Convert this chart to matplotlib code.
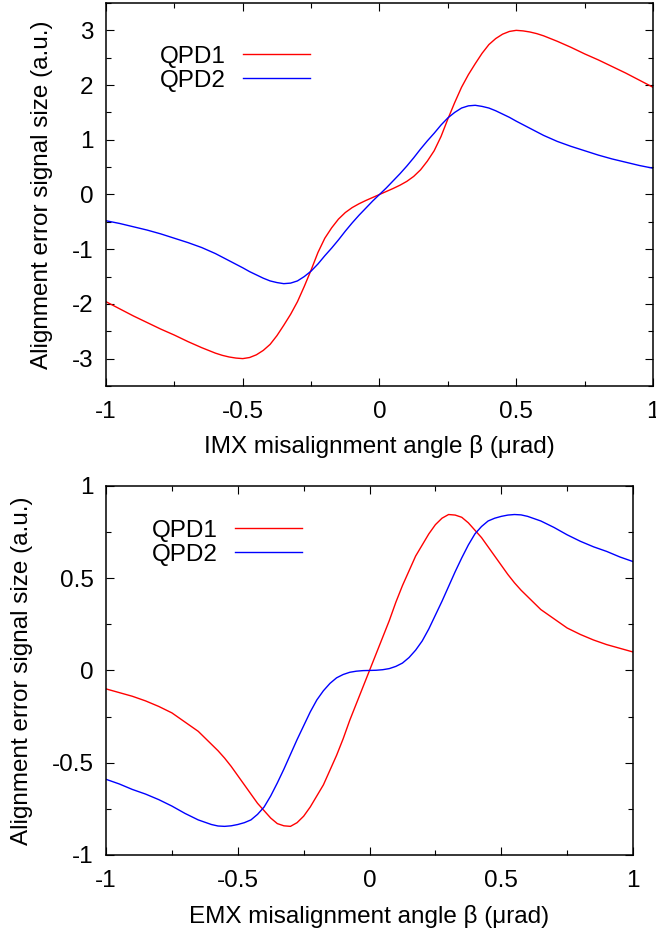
import matplotlib
matplotlib.use('Agg')
import matplotlib.pyplot as plt
from matplotlib.ticker import MultipleLocator

plt.rcParams['font.family'] = ['Liberation Sans', 'DejaVu Sans']
plt.rcParams['axes.unicode_minus'] = False

FS = 17.5   # --- размер шрифта подписей

# --- angle samples (urad)
beta = [-1.0, -0.95, -0.9, -0.85, -0.8, -0.75, -0.7, -0.65,
        -0.6, -0.575, -0.55, -0.525, -0.5, -0.475, -0.45, -0.425, -0.4, -0.375,
        -0.35, -0.325, -0.3, -0.275, -0.25, -0.225, -0.2, -0.175, -0.15, -0.125,
        -0.1, -0.075, -0.05, -0.025, 0.0,
        0.025, 0.05, 0.075, 0.1, 0.125, 0.15, 0.175, 0.2, 0.225, 0.25,
        0.275, 0.3, 0.325, 0.35, 0.375, 0.4, 0.425, 0.45, 0.475, 0.5,
        0.525, 0.55, 0.575, 0.6,
        0.65, 0.7, 0.75, 0.8, 0.85, 0.9, 0.95, 1.0]

# --- IMX panel
imx_qpd1 = [-1.96, -2.09, -2.22, -2.34, -2.46, -2.57, -2.69, -2.80,
            -2.90, -2.94, -2.97, -2.99, -3.0, -2.98, -2.93, -2.85, -2.74, -2.58,
            -2.39, -2.19, -1.96, -1.68, -1.38, -1.06, -0.80, -0.61, -0.45, -0.33,
            -0.24, -0.17, -0.11, -0.055, 0.0,
            0.055, 0.11, 0.17, 0.24, 0.33, 0.45, 0.61, 0.80, 1.06, 1.38,
            1.68, 1.96, 2.19, 2.39, 2.58, 2.74, 2.85, 2.93, 2.98, 3.0,
            2.99, 2.97, 2.94, 2.90,
            2.80, 2.69, 2.57, 2.46, 2.34, 2.22, 2.09, 1.96]
imx_qpd2 = [-0.48, -0.53, -0.59, -0.65, -0.72, -0.80, -0.88, -0.97,
            -1.08, -1.145, -1.21, -1.275, -1.34, -1.41, -1.47, -1.53, -1.58, -1.61,
            -1.63, -1.62, -1.58, -1.50, -1.40, -1.27, -1.12, -0.98, -0.83, -0.67,
            -0.52, -0.38, -0.25, -0.12, 0.0,
            0.12, 0.25, 0.38, 0.52, 0.67, 0.83, 0.98, 1.12, 1.27, 1.40,
            1.50, 1.58, 1.62, 1.63, 1.61, 1.58, 1.53, 1.47, 1.41, 1.34,
            1.275, 1.21, 1.145, 1.08,
            0.97, 0.88, 0.80, 0.72, 0.65, 0.59, 0.53, 0.48]

# --- EMX panel
emx_qpd1 = [-0.10, -0.12, -0.14, -0.165, -0.195, -0.23, -0.28, -0.33,
            -0.40, -0.435, -0.475, -0.52, -0.57, -0.62, -0.67, -0.72, -0.76, -0.80,
            -0.83, -0.842, -0.845, -0.825, -0.79, -0.74, -0.68, -0.62, -0.54, -0.46,
            -0.37, -0.27, -0.18, -0.09, 0.0,
            0.09, 0.18, 0.27, 0.37, 0.46, 0.54, 0.62, 0.68, 0.74, 0.79,
            0.825, 0.845, 0.842, 0.83, 0.80, 0.76, 0.72, 0.67, 0.62, 0.57,
            0.52, 0.475, 0.435, 0.40,
            0.33, 0.28, 0.23, 0.195, 0.165, 0.14, 0.12, 0.10]
emx_qpd2 = [-0.59, -0.615, -0.645, -0.67, -0.70, -0.735, -0.775, -0.81,
            -0.835, -0.843, -0.845, -0.842, -0.835, -0.825, -0.81, -0.78, -0.74, -0.68,
            -0.61, -0.535, -0.455, -0.375, -0.30, -0.225, -0.16, -0.11, -0.07, -0.04,
            -0.022, -0.01, -0.004, -0.001, 0.0,
            0.001, 0.004, 0.01, 0.022, 0.04, 0.07, 0.11, 0.16, 0.225, 0.30,
            0.375, 0.455, 0.535, 0.61, 0.68, 0.74, 0.78, 0.81, 0.825, 0.835,
            0.842, 0.845, 0.843, 0.835,
            0.81, 0.775, 0.735, 0.70, 0.67, 0.645, 0.615, 0.59]

xticks = [-1, -0.5, 0, 0.5, 1]
xticklabels = ['-1', '-0.5', '0', '0.5', '1']
imx_yticks = [-3, -2, -1, 0, 1, 2, 3]
emx_yticks = [-1, -0.5, 0, 0.5, 1]
emx_yticklabels = ['-1', '-0.5', '0', '0.5', '1']

ylabel = 'Alignment error signal size (a.u.)'

fig = plt.figure(figsize=(6.56, 9.35), dpi=100)
ax1 = fig.add_axes([0.1616, 0.5872, 0.8338, 0.4096])
ax2 = fig.add_axes([0.1616, 0.0856, 0.8034, 0.3947])


def style(ax, ymin, ymax, yminor):
    ax.set_xlim(-1, 1)
    ax.set_ylim(ymin, ymax)
    ax.xaxis.set_minor_locator(MultipleLocator(0.25))
    ax.yaxis.set_minor_locator(MultipleLocator(yminor))
    ax.tick_params(which='both', direction='in', top=True, right=True,
                   labelsize=FS, width=0.8)
    ax.tick_params(which='major', length=6)
    ax.tick_params(which='minor', length=3.5)
    ax.tick_params(axis='x', pad=11)
    ax.tick_params(axis='y', pad=9)
    for s in ax.spines.values():
        s.set_linewidth(1.1)


def legend(ax, anchor):
    ax.legend(loc='upper left', bbox_to_anchor=anchor, frameon=False,
              markerfirst=False, fontsize=FS, handlelength=2.75,
              handletextpad=0.7, labelspacing=0.1, borderpad=0,
              borderaxespad=0)


# --- верхний график: IMX
ax1.plot(beta, imx_qpd1, color='#ff0000', lw=1.0, label='QPD1')
ax1.plot(beta, imx_qpd2, color='#0000ff', lw=1.0, label='QPD2')
style(ax1, -3.5, 3.5, 0.5)
ax1.set_xticks(xticks)
ax1.set_xticklabels(xticklabels)
ax1.set_yticks(imx_yticks)
ax1.set_xlabel('IMX misalignment angle β (μrad)', fontsize=FS)
ax1.set_ylabel(ylabel, fontsize=FS)
ax1.xaxis.set_label_coords(0.5, -0.127)
ax1.yaxis.set_label_coords(-0.097, 0.5)
legend(ax1, (0.0987, 0.889))

# --- нижний график: EMX
ax2.plot(beta, emx_qpd1, color='#ff0000', lw=1.0, label='QPD1')
ax2.plot(beta, emx_qpd2, color='#0000ff', lw=1.0, label='QPD2')
style(ax2, -1, 1, 0.25)
ax2.set_xticks(xticks)
ax2.set_xticklabels(xticklabels)
ax2.set_yticks(emx_yticks)
ax2.set_yticklabels(emx_yticklabels)
ax2.set_xlabel('EMX misalignment angle β (μrad)', fontsize=FS)
ax2.set_ylabel(ylabel, fontsize=FS)
ax2.xaxis.set_label_coords(0.5, -0.135)
ax2.yaxis.set_label_coords(-0.1385, 0.5)
legend(ax2, (0.0873, 0.909))

fig.savefig('out.png', dpi=100)
